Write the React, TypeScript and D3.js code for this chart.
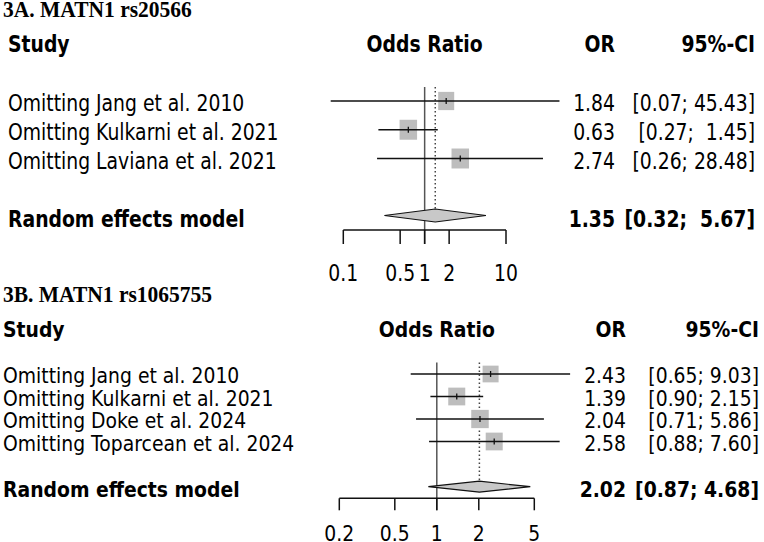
import React from 'react';
import * as d3 from 'd3';

const width = 764;
const height = 542;
const sans = 'DejaVu Sans';
const serif = 'Liberation Serif';
const boxFill = '#bdbdbd';
const diamondFill = '#c8c8c8';
const ink = '#111';

// 3A. MATN1 rs20566 (leave-one-out)
const studiesA = ['Omitting Jang et al. 2010', 'Omitting Kulkarni et al. 2021', 'Omitting Laviana et al. 2021'];
const orA = [1.84, 0.63, 2.74];
const lowerA = [0.07, 0.27, 0.26];
const upperA = [45.43, 1.45, 28.48];
const weightA = [0.3, 0.35, 0.35];
const pooledA = [1.35, 0.32, 5.67];
const ticksA = [0.1, 0.5, 1, 2, 10];

// 3B. MATN1 rs1065755 (leave-one-out)
const studiesB = [
  'Omitting Jang et al. 2010',
  'Omitting Kulkarni et al. 2021',
  'Omitting Doke et al. 2024',
  'Omitting Toparcean et al. 2024'
];
const orB = [2.43, 1.39, 2.04, 2.58];
const lowerB = [0.65, 0.9, 0.71, 0.88];
const upperB = [9.03, 2.15, 5.86, 7.6];
const weightB = [0.23, 0.25, 0.26, 0.25];
const pooledB = [2.02, 0.87, 4.68];
const ticksB = [0.2, 0.5, 1, 2, 5];

const f2 = d3.format('.2f');

// pads the upper bound so the brackets line up like R's output
const ciText = (lo, hi, padTo) => `[${f2(lo)}; ${f2(hi).padStart(padTo, ' ')}]`;

function T({ x, y, sy = 1, size = 18.8, bold = false, anchor = 'start', family = sans, children }) {
  return (
    <text
      transform={`translate(${x},${y}) scale(1,${sy})`}
      fontFamily={family}
      fontSize={size}
      fontWeight={bold ? 'bold' : 'normal'}
      textAnchor={anchor}
      fill="#000"
      style={{ whiteSpace: 'pre' }}
    >
      {children}
    </text>
  );
}

function Forest({ cfg }) {
  const {
    title, titleY, headY, rowsY, pooledY, axisY, tickLen, labelY, sy, labelX,
    domain, range, ticks, studies, or, lower, upper, weight, pooled, orX, ciX, boxRange, diamondH, topY
  } = cfg;

  const x = d3.scaleLog().domain(domain).range(range);
  const y = d3.scalePoint().domain(studies).range(rowsY);
  const box = d3.scaleLinear().domain(d3.extent(weight)).range(boxRange);
  const padTo = d3.max(upper.concat([pooled[2]]), d => f2(d).length);

  const diamond = d3.line()([
    [x(pooled[1]), pooledY],
    [x(pooled[0]), pooledY - diamondH],
    [x(pooled[2]), pooledY],
    [x(pooled[0]), pooledY + diamondH]
  ]) + 'Z';

  const baseOff = 8.5 * sy;

  return (
    <g>
      <T x={3} y={titleY} sy={1.08} family={serif} size={21.5} bold>{title}</T>
      <T x={labelX} y={headY} sy={sy} bold>Study</T>
      <T x={x(1)} y={headY} sy={sy} bold anchor="middle">Odds Ratio</T>
      <T x={orX} y={headY} sy={sy} bold anchor="end">OR</T>
      <T x={ciX} y={headY} sy={sy} bold anchor="end">95%-CI</T>

      {/* no-effect line and pooled estimate */}
      <line x1={x(1)} x2={x(1)} y1={topY} y2={axisY + tickLen} stroke="#555" strokeWidth={1.5} />
      <line
        x1={x(pooled[0])}
        x2={x(pooled[0])}
        y1={topY}
        y2={pooledY - diamondH}
        stroke="#444"
        strokeWidth={1.5}
        strokeDasharray="1.5 2.5"
      />

      {studies.map((s, i) => {
        const cy = y(s);
        const side = box(weight[i]);
        const hgt = side * sy * 0.95;
        return (
          <g key={s}>
            <T x={labelX} y={cy + baseOff} sy={sy}>{s}</T>
            <rect x={x(or[i]) - side / 2} y={cy - hgt / 2} width={side} height={hgt} fill={boxFill} />
            <line x1={x(lower[i])} x2={x(upper[i])} y1={cy} y2={cy} stroke={ink} strokeWidth={1.7} />
            <line x1={x(or[i])} x2={x(or[i])} y1={cy - 3} y2={cy + 3} stroke={ink} strokeWidth={1.3} />
            <T x={orX} y={cy + baseOff} sy={sy} anchor="end">{f2(or[i])}</T>
            <T x={ciX} y={cy + baseOff} sy={sy} anchor="end">{ciText(lower[i], upper[i], padTo)}</T>
          </g>
        );
      })}

      <T x={labelX} y={pooledY + baseOff + 1} sy={sy} bold>Random effects model</T>
      <path d={diamond} fill={diamondFill} stroke={ink} strokeWidth={1.2} />
      <T x={orX} y={pooledY + baseOff + 1} sy={sy} bold anchor="end">{f2(pooled[0])}</T>
      <T x={ciX} y={pooledY + baseOff + 1} sy={sy} bold anchor="end">{ciText(pooled[1], pooled[2], padTo)}</T>

      {/* bottom axis */}
      <line x1={x(ticks[0])} x2={x(ticks[ticks.length - 1])} y1={axisY} y2={axisY} stroke={ink} strokeWidth={1.5} />
      {ticks.map(t => (
        <g key={t}>
          <line x1={x(t)} x2={x(t)} y1={axisY} y2={axisY + tickLen} stroke={ink} strokeWidth={1.5} />
          <T x={x(t)} y={labelY} sy={sy} anchor="middle">{String(t)}</T>
        </g>
      ))}
    </g>
  );
}

const panelA = {
  title: '3A. MATN1 rs20566',
  titleY: 17,
  headY: 51.5,
  rowsY: [101, 158.5],
  pooledY: 215.5,
  axisY: 230,
  tickLen: 14,
  labelY: 281,
  sy: 1.2,
  labelX: 8,
  domain: [0.1, 10],
  range: [343.3, 506],
  ticks: ticksA,
  studies: studiesA,
  or: orA,
  lower: lowerA,
  upper: upperA,
  weight: weightA,
  pooled: pooledA,
  orX: 615,
  ciX: 755,
  boxRange: [16, 17.5],
  diamondH: 6.5,
  topY: 87
};

const panelB = {
  title: '3B. MATN1 rs1065755',
  titleY: 301.5,
  headY: 336.5,
  rowsY: [374, 441.5],
  pooledY: 486.7,
  axisY: 498.3,
  tickLen: 12,
  labelY: 540.5,
  sy: 1.1,
  labelX: 3,
  domain: [0.2, 5],
  range: [339.3, 534.3],
  ticks: ticksB,
  studies: studiesB,
  or: orB,
  lower: lowerB,
  upper: upperB,
  weight: weightB,
  pooled: pooledB,
  orX: 626,
  ciX: 759,
  boxRange: [16, 17.5],
  diamondH: 5.5,
  topY: 362.5
};

export default function App() {
  return (
    <svg
      width={width}
      height={height}
      style={{ position: 'absolute', left: 0, top: 0, background: '#fff' }}
    >
      <Forest cfg={panelA} />
      <Forest cfg={panelB} />
    </svg>
  );
}
